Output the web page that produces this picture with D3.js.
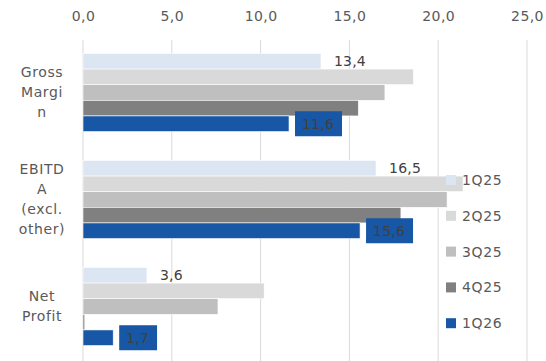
<!DOCTYPE html>
<html>
<head>
<meta charset="utf-8">
<script src="https://cdn.jsdelivr.net/npm/d3@7"></script>
<style>
  html, body { margin: 0; padding: 0; background: #fff; }
  svg { display: block; font-family: "DejaVu Sans", sans-serif; }
</style>
</head>
<body>
<svg id="chart" width="546" height="361"></svg>
<script>
// Quarterly figures per metric
const categories = ["Gross Margin", "EBITDA (excl. other)", "Net Profit"];
const categoryLines = [["Gross", "Margi", "n"], ["EBITD", "A", "(excl.", "other)"], ["Net", "Profit"]];
const seriesNames = ["1Q25", "2Q25", "3Q25", "4Q25", "1Q26"];
const values1Q25 = [13.4, 16.5, 3.6];
const values2Q25 = [18.6, 21.4, 10.2];
const values3Q25 = [17.0, 20.5, 7.6];
const values4Q25 = [15.5, 17.9, 0.1];
const values1Q26 = [11.6, 15.6, 1.7];
const xTicks = [0, 5, 10, 15, 20, 25];
const colors = ["#dce6f2", "#d9d9d9", "#bfbfbf", "#808080", "#1757a5"];
const labelledSeries = ["1Q25", "1Q26"];

const seriesValues = [values1Q25, values2Q25, values3Q25, values4Q25, values1Q26];
const rows = [];
categories.forEach((c, ci) => {
  seriesNames.forEach((s, si) => rows.push({ cat: c, series: s, value: seriesValues[si][ci], color: colors[si] }));
});

const svg = d3.select("#chart");
const fmt = v => d3.format(".1f")(v).replace(".", ",");

const x = d3.scaleLinear().domain([0, 25]).range([83, 527]);
const y0 = d3.scaleBand().domain(categories).range([39, 360]).paddingInner(0.27).paddingOuter(0.135);
const y1 = d3.scaleBand().domain(seriesNames).range([0, y0.bandwidth()]);

// Vertical gridlines
svg.append("g").selectAll("line").data(xTicks).join("line")
  .attr("x1", d => x(d)).attr("x2", d => x(d))
  .attr("y1", 40).attr("y2", 361)
  .attr("stroke", "#d9d9d9").attr("stroke-width", 1);

// Top axis labels
const xAxis = d3.axisTop(x).tickValues(xTicks).tickFormat(fmt).tickSize(0).tickPadding(0);
const ax = svg.append("g").attr("transform", "translate(0,21)").call(xAxis);
ax.select(".domain").remove();
ax.selectAll("text").attr("font-size", 14).attr("fill", "#595959")
  .attr("font-family", "DejaVu Sans, sans-serif").style("letter-spacing", "0.4px");

// Category labels (wrapped)
const catG = svg.append("g").selectAll("text").data(categories).join("text")
  .attr("text-anchor", "middle").attr("font-size", 14).attr("fill", "#595959")
  .style("letter-spacing", "0.6px");
catG.each(function (c, i) {
  const lines = categoryLines[i];
  const lh = 20;
  const cy = y0(c) + y0.bandwidth() / 2;
  const start = cy - (lines.length - 1) * lh / 2;
  d3.select(this).selectAll("tspan").data(lines).join("tspan")
    .attr("x", 42).attr("y", (d, j) => start + j * lh).attr("dy", "0.35em").text(d => d);
});

// Bars
svg.append("g").selectAll("rect").data(rows).join("rect")
  .attr("x", x(0))
  .attr("y", d => y0(d.cat) + y1(d.series))
  .attr("width", d => x(d.value) - x(0))
  .attr("height", y1.bandwidth())
  .attr("fill", d => d.color)
  .attr("stroke", "#fff").attr("stroke-width", 0.6);

// Data labels for first and last quarter
const labG = svg.append("g");
rows.filter(d => labelledSeries.includes(d.series)).forEach(d => {
  const cy = y0(d.cat) + y1(d.series) + y1.bandwidth() / 2;
  const bx = x(d.value) + 6;
  const g = labG.append("g");
  const t = g.append("text").attr("x", bx + 7).attr("y", cy).attr("dy", "0.36em")
    .attr("font-size", 14).attr("fill", "#404040").style("letter-spacing", "0.2px")
    .text(fmt(d.value));
  if (d.series === "1Q26") {
    const w = t.node().getComputedTextLength();
    g.insert("rect", "text").attr("x", bx).attr("y", cy - 12.5)
      .attr("width", w + 15).attr("height", 25).attr("fill", d.color);
  }
});

// Legend
const leg = svg.append("g").selectAll("g").data(seriesNames).join("g")
  .attr("transform", (d, i) => `translate(446,${180 + i * 35.8})`);
leg.append("rect").attr("x", 0).attr("y", -5).attr("width", 10).attr("height", 10)
  .attr("fill", (d, i) => colors[i]);
leg.append("text").attr("x", 16).attr("y", 0).attr("dy", "0.36em")
  .attr("font-size", 14).attr("fill", "#595959").style("letter-spacing", "0.6px")
  .text(d => d);
</script>
</body>
</html>
